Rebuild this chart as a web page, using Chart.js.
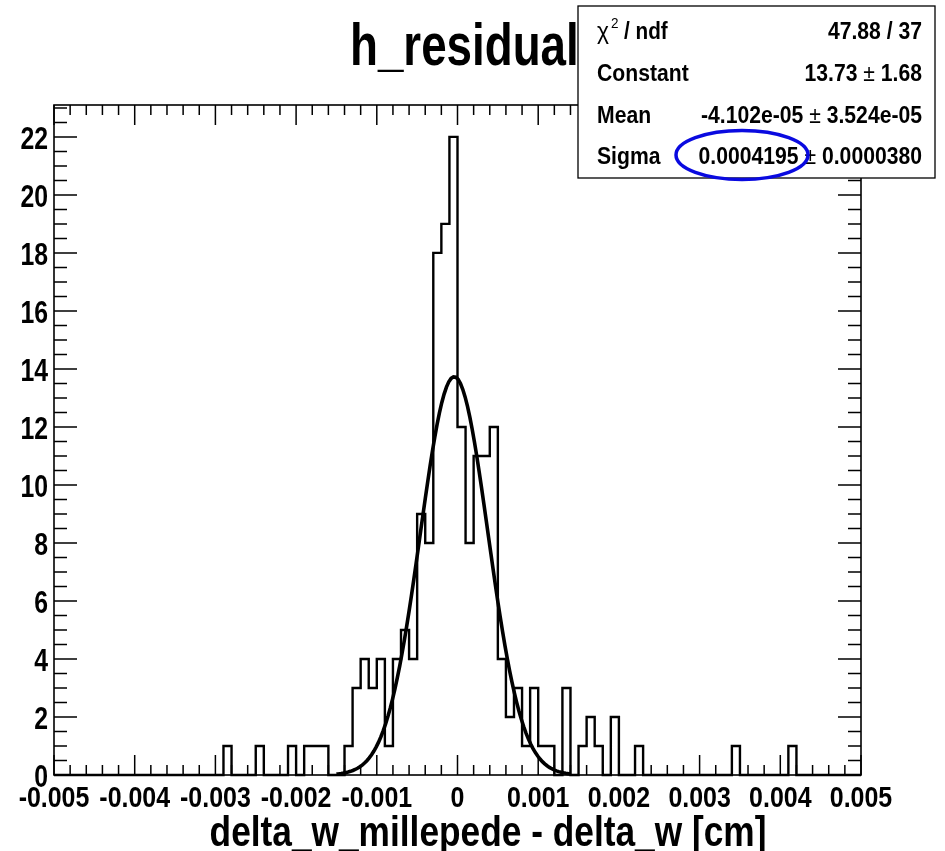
<!DOCTYPE html>
<html>
<head>
<meta charset="utf-8">
<title>h_residual</title>
<script src="https://cdn.jsdelivr.net/npm/chart.js@4.4.0/dist/chart.umd.min.js"></script>
<style>
  html, body { margin: 0; padding: 0; background: #fff; }
  #wrap { width: 945px; height: 851px; position: relative; }
</style>
</head>
<body>
<div id="wrap"><canvas id="chart"></canvas></div>
<script>
// histogram binning
const xMin = -0.005;
const xMax = 0.005;
const nBins = 100;
const yMax = 23.1;

// entries per bin
const counts = [
    0, 0, 0, 0, 0, 0, 0, 0, 0, 0,
    0, 0, 0, 0, 0, 0, 0, 0, 0, 0,
    0, 1, 0, 0, 0, 1, 0, 0, 0, 1,
    0, 1, 1, 1, 0, 0, 1, 3, 4, 3,
    4, 1, 4, 5, 4, 9, 8, 18, 19, 22,
    12, 8, 11, 11, 12, 4, 2, 3, 1, 3,
    1, 1, 0, 3, 0, 1, 2, 1, 0, 2,
    0, 0, 1, 0, 0, 0, 0, 0, 0, 0,
    0, 0, 0, 0, 1, 0, 0, 0, 0, 0,
    0, 1, 0, 0, 0, 0, 0, 0, 0, 0
];

// gaussian fit result and range
const fitConstant = 13.73;
const fitMean = -4.102e-05;
const fitSigma = 0.0004195;
const fitRange = [-0.0015, 0.0014];

// axis labels
const xTickLabels = ['-0.005', '-0.004', '-0.003', '-0.002', '-0.001', '0',
                     '0.001', '0.002', '0.003', '0.004', '0.005'];
const yTickLabels = ['0', '2', '4', '6', '8', '10', '12', '14', '16', '18', '20', '22'];

// stats box
const statNames = ['ndf', 'Constant', 'Mean', 'Sigma'];
const statValues = ['47.88 / 37', '13.73 \u00b1 1.68', '-4.102e-05 \u00b1 3.524e-05', '0.0004195 \u00b1 0.0000380'];

const FONT = '"Liberation Sans", Arial, Helvetica, sans-serif';

// histogram outline: one point per bin low edge, plus the last upper edge
const binWidth = (xMax - xMin) / nBins;
const histPoints = counts.map((c, i) => ({ x: xMin + i * binWidth, y: c }));
histPoints.push({ x: xMax, y: counts[counts.length - 1] });

// fit curve sampled like TF1 (100 points)
const gausPoints = [];
for (let i = 0; i <= 100; i++) {
    const x = fitRange[0] + (fitRange[1] - fitRange[0]) * i / 100;
    const z = (x - fitMean) / fitSigma;
    gausPoints.push({ x: x, y: fitConstant * Math.exp(-0.5 * z * z) });
}

function setFont(ctx, size, weight) {
    ctx.font = (weight || 'bold') + ' ' + size + 'px ' + FONT;
}

// condensed text, returns drawn width
function drawText(ctx, str, x, y, size, sx, align, weight) {
    ctx.save();
    setFont(ctx, size, weight);
    ctx.textAlign = align || 'left';
    ctx.textBaseline = 'alphabetic';
    const w = ctx.measureText(str).width * sx;
    ctx.translate(x, y);
    ctx.scale(sx, 1);
    ctx.fillText(str, 0, 0);
    ctx.restore();
    return w;
}

// "value ± error", right aligned, with a thin ± sign
function drawValue(ctx, str, right, y, size, sx) {
    const parts = str.split(' \u00b1 ');
    if (parts.length < 2) {
        drawText(ctx, str, right, y, size, sx, 'right');
        return;
    }
    let x = right;
    x -= drawText(ctx, ' ' + parts[1], x, y, size, sx, 'right');
    x -= drawText(ctx, '\u00b1', x, y, size, sx, 'right', 'normal');
    drawText(ctx, parts[0] + ' ', x, y, size, sx, 'right');
}

// frame, ticks, labels, title, stats box
const rootStyle = {
    id: 'rootStyle',
    afterDraw(chart) {
        const ctx = chart.ctx;
        const xs = chart.scales.x;
        const ys = chart.scales.y;
        const a = chart.chartArea;

        ctx.save();
        ctx.fillStyle = '#000';
        ctx.strokeStyle = '#000';

        // frame
        ctx.lineWidth = 1.6;
        ctx.strokeRect(a.left, a.top, a.right - a.left, a.bottom - a.top);

        // x ticks, bottom and top
        ctx.lineWidth = 1.5;
        for (let k = 0; k <= 50; k++) {
            const px = xs.getPixelForValue(xMin + k * 0.0002);
            const len = (k % 5 === 0) ? 20 : 10;
            ctx.beginPath();
            ctx.moveTo(px, a.bottom); ctx.lineTo(px, a.bottom - len);
            ctx.moveTo(px, a.top); ctx.lineTo(px, a.top + len);
            ctx.stroke();
        }
        // y ticks, left and right
        for (let k = 0; k * 0.5 <= yMax; k++) {
            const py = ys.getPixelForValue(k * 0.5);
            const len = (k % 4 === 0) ? 23 : 13;
            ctx.beginPath();
            ctx.moveTo(a.left, py); ctx.lineTo(a.left + len, py);
            ctx.moveTo(a.right, py); ctx.lineTo(a.right - len, py);
            ctx.stroke();
        }

        // tick labels
        xTickLabels.forEach((lab, i) => {
            const px = xs.getPixelForValue(xMin + i * 0.001);
            drawText(ctx, lab, px, a.bottom + 32, 29, 0.86, 'center');
        });
        yTickLabels.forEach((lab, i) => {
            const py = ys.getPixelForValue(i * 2);
            drawText(ctx, lab, a.left - 6, py + 12, 31, 0.8, 'right');
        });

        // axis title
        drawText(ctx, 'delta_w_millepede - delta_w [cm]', 488, 846, 42, 0.84, 'center');

        // histogram title
        drawText(ctx, 'h_residual', 350, 65, 59, 0.775, 'left');

        // stats box
        const bx = 578, by = 6, bw = 357, bh = 172;
        ctx.fillStyle = '#fff';
        ctx.fillRect(bx, by, bw, bh);
        ctx.lineWidth = 1.3;
        ctx.strokeRect(bx, by, bw, bh);
        ctx.fillStyle = '#000';

        const rowY = [39, 81, 123, 164];
        // chi2 / ndf with superscript
        drawText(ctx, '\u03c7', 597, rowY[0], 24, 0.95, 'left', 'normal');
        drawText(ctx, '2', 611, rowY[0] - 11, 15, 0.9, 'left', 'normal');
        drawText(ctx, '/ ' + statNames[0], 624, rowY[0], 23, 0.9, 'left');
        for (let r = 1; r < statNames.length; r++) {
            drawText(ctx, statNames[r], 597, rowY[r], 23, 0.92, 'left');
        }
        statValues.forEach((v, r) => {
            drawValue(ctx, v, 922, rowY[r], 23, 0.92);
        });

        // blue ring around sigma
        ctx.strokeStyle = '#0a0ae0';
        ctx.lineWidth = 3.5;
        ctx.beginPath();
        ctx.ellipse(742, 155, 66, 24.5, 0, 0, Math.PI * 2);
        ctx.stroke();

        ctx.restore();
    }
};

new Chart(document.getElementById('chart').getContext('2d'), {
    type: 'line',
    data: {
        datasets: [
            {
                label: 'h_residual',
                data: histPoints,
                stepped: 'before',
                borderColor: '#000',
                borderWidth: 2.4,
                pointRadius: 0,
                fill: false,
                clip: 6
            },
            {
                label: 'gaus',
                data: gausPoints,
                borderColor: '#000',
                borderWidth: 3.6,
                pointRadius: 0,
                fill: false,
                tension: 0,
                clip: 6
            }
        ]
    },
    options: {
        responsive: true,
        maintainAspectRatio: false,
        animation: false,
        events: [],
        layout: {
            padding: { left: 54, right: 84, top: 105, bottom: 76 }
        },
        plugins: {
            legend: { display: false },
            title: { display: false },
            tooltip: { enabled: false }
        },
        scales: {
            x: { type: 'linear', min: xMin, max: xMax, display: false },
            y: { type: 'linear', min: 0, max: yMax, display: false }
        }
    },
    plugins: [rootStyle]
});
</script>
</body>
</html>
